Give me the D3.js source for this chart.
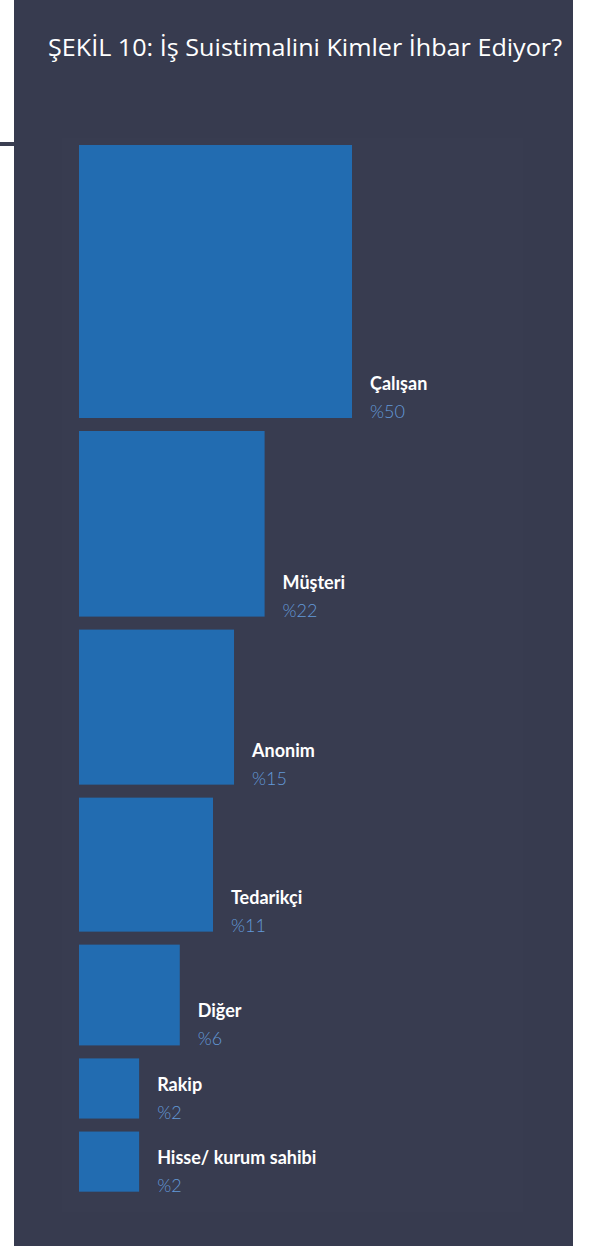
<!DOCTYPE html>
<html>
<head>
	<meta charset="utf-8">
	<script src="https://d3js.org/d3.v7.min.js"></script>
	<title>Şekil 10</title>
	<style>
		body { margin: 0; background: #ffffff; }
	</style>
</head>
<body>
	<div id="chart"></div>

	<script type="text/javascript">

		// data
		var categories = ["Çalışan", "Müşteri", "Anonim", "Tedarikçi", "Diğer", "Rakip", "Hisse/ kurum sahibi"];
		var values = [50, 22, 15, 11, 6, 2, 2];
		var valueLabels = ["%50", "%22", "%15", "%11", "%6", "%2", "%2"];
		var title = "ŞEKİL 10: İş Suistimalini Kimler İhbar Ediyor?";

		var width = 591, height = 1246;

		var svg = d3.select("#chart").append("svg")
				.attr("width", width)
				.attr("height", height);

		// panel background
		svg.append("rect").attr("x", 14).attr("y", 0).attr("width", 559).attr("height", height).attr("fill", "#373b4f");
		svg.append("rect").attr("x", 62).attr("y", 138).attr("width", 461).attr("height", 1074).attr("fill", "#383c50");
		svg.append("rect").attr("x", 0).attr("y", 142).attr("width", 14).attr("height", 4).attr("fill", "#3b3f52");

		svg.append("text")
			.attr("x", 48).attr("y", 56)
			.attr("fill", "#ffffff")
			.attr("font-family", "'Open Sans', sans-serif")
			.attr("font-size", 24)
			.attr("textLength", 514)
			.attr("lengthAdjust", "spacingAndGlyphs")
			.text(title);

		// square side grows with the value (area-like)
		var size = d3.scalePow().exponent(0.47)
				.domain([0, 50])
				.range([0, 273]);

		var barLeft = 79, startY = 145, gap = 13;

		var rows = [];
		var y = startY;
		values.forEach(function(v, i){
			var s = size(v);
			rows.push({ name: categories[i], label: valueLabels[i], y: y, s: s });
			y += s + gap;
		});

		var groups = svg.selectAll(".row").data(rows).enter().append("g").attr("class", "row");

		groups.append("rect")
			.attr("x", barLeft)
			.attr("y", function(d){ return d.y; })
			.attr("width", function(d){ return d.s; })
			.attr("height", function(d){ return d.s; })
			.attr("fill", "#226cb1");

		groups.append("text")
			.attr("x", function(d){ return barLeft + d.s + 18; })
			.attr("y", function(d){ return d.y + d.s - 28; })
			.attr("fill", "#ffffff")
			.attr("font-family", "Lato, sans-serif")
			.attr("font-weight", "bold")
			.attr("font-size", 18)
			.text(function(d){ return d.name; });

		groups.append("text")
			.attr("x", function(d){ return barLeft + d.s + 18; })
			.attr("y", function(d){ return d.y + d.s; })
			.attr("fill", "#6399d8")
			.attr("font-family", "Lato, sans-serif")
			.attr("font-weight", 300)
			.attr("font-size", 18)
			.text(function(d){ return d.label; });

	</script>
</body>
</html>
